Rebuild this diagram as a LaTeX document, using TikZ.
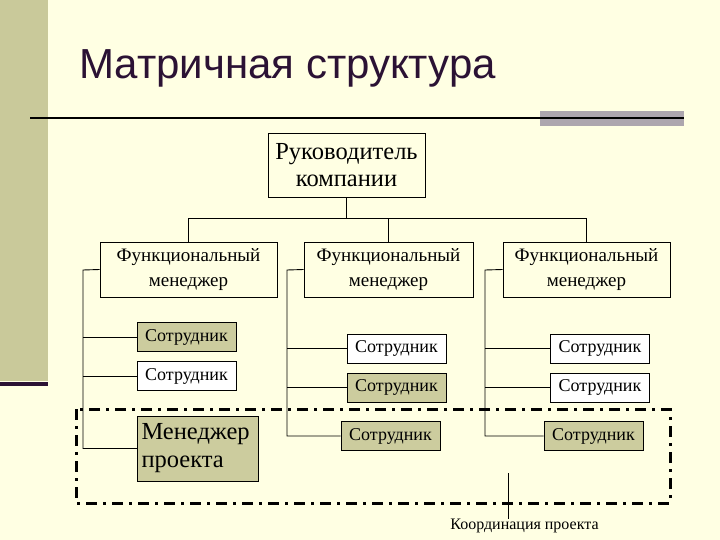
\documentclass[tikz,border=0pt]{standalone}
\usepackage{fontspec}
\setmainfont{Liberation Serif}
\newfontfamily\titlefont{Liberation Sans}
\definecolor{bgc}{HTML}{FFFFE3}
\definecolor{olive}{HTML}{CCCC9E}
\definecolor{band}{HTML}{C9C99A}
\definecolor{barg}{HTML}{ADA6AE}
\definecolor{ttl}{HTML}{2B1234}
\begin{document}
\begin{tikzpicture}[x=1pt,y=-1pt,
  box/.style={draw=black,line width=0.9pt,inner sep=0pt,align=center,fill=bgc},
  emp/.style={box,minimum width=99pt,minimum height=29pt,font=\fontsize{18}{21}\selectfont},
  empo/.style={emp,fill=olive},
  empw/.style={emp,fill=white},
  fm/.style={box,minimum height=55pt,font=\fontsize{19}{25}\selectfont},
  conn/.style={line width=0.9pt},
  coord/.style={line width=3pt,dash pattern=on 11pt off 6pt on 3pt off 6pt}]
\useasboundingbox (0,0) rectangle (720,540);
\fill[bgc] (0,0) rectangle (720,540);
\fill[band] (0,0) rectangle (48,381);
\fill[ttl] (0,382) rectangle (48,386);
\fill[barg] (540,111) rectangle (684,126);
\draw[line width=2pt] (30,118) -- (684,118);
\node[anchor=west,inner sep=0pt,text=ttl,font=\titlefont\fontsize{42}{48}\selectfont] (title) at (79,68) {Матричная структура};

\node[box,minimum width=157pt,minimum height=64pt,font=\fontsize{24.5}{27}\selectfont] (top) at (346.5,165) {Руководитель\\компании};
\node[fm,minimum width=177pt] (fm1) at (188.5,269.5) {Функциональный\\менеджер};
\node[fm,minimum width=169pt] (fm2) at (388.5,269.5) {Функциональный\\менеджер};
\node[fm,minimum width=167pt] (fm3) at (586.5,269.5) {Функциональный\\менеджер};

\coordinate (hb) at (346.5,218);
\draw[conn] (top.south) -- (hb);
\draw[conn] (fm1.north) |- (hb);
\draw[conn] (fm2.north) |- (hb);
\draw[conn] (fm3.north) |- (hb);

\node[empo] (s11) at (186.5,337) {Сотрудник};
\node[empw] (s12) at (186.5,376) {Сотрудник};
\node[box,fill=olive,minimum width=121pt,minimum height=65pt,align=left,text width=113pt,font=\fontsize{24.5}{28}\selectfont] (pm) at (198,448.5) {Менеджер\\проекта};
\node[empw] (s21) at (396.5,348.5) {Сотрудник};
\node[empo] (s22) at (396.5,387.5) {Сотрудник};
\node[empo] (s23) at (390.5,436) {Сотрудник};
\node[empw] (s31) at (600,348.5) {Сотрудник};
\node[empw] (s32) at (600,387.5) {Сотрудник};
\node[empo] (s33) at (593.5,436) {Сотрудник};

\coordinate (l1) at (83,270);
\coordinate (l2) at (287,270);
\coordinate (l3) at (485,270);
\draw[conn] (fm1.west) -- (l1) |- (pm.west);
\draw[conn] (s11.west) -- (s11.west -| l1);
\draw[conn] (s12.west) -- (s12.west -| l1);
\draw[conn] (fm2.west) -- (l2) |- (s23.west);
\draw[conn] (s21.west) -- (s21.west -| l2);
\draw[conn] (s22.west) -- (s22.west -| l2);
\draw[conn] (fm3.west) -- (l3) |- (s33.west);
\draw[conn] (s31.west) -- (s31.west -| l3);
\draw[conn] (s32.west) -- (s32.west -| l3);

\draw[coord] (76,409) rectangle (670,503);

\node[inner sep=0pt,anchor=north,font=\fontsize{16}{18}\selectfont] (kp) at (524.5,519) {Координация проекта};
\coordinate (cc) at (508,473);
\draw[conn] (cc) -- (cc |- kp.north);
\end{tikzpicture}
\end{document}
